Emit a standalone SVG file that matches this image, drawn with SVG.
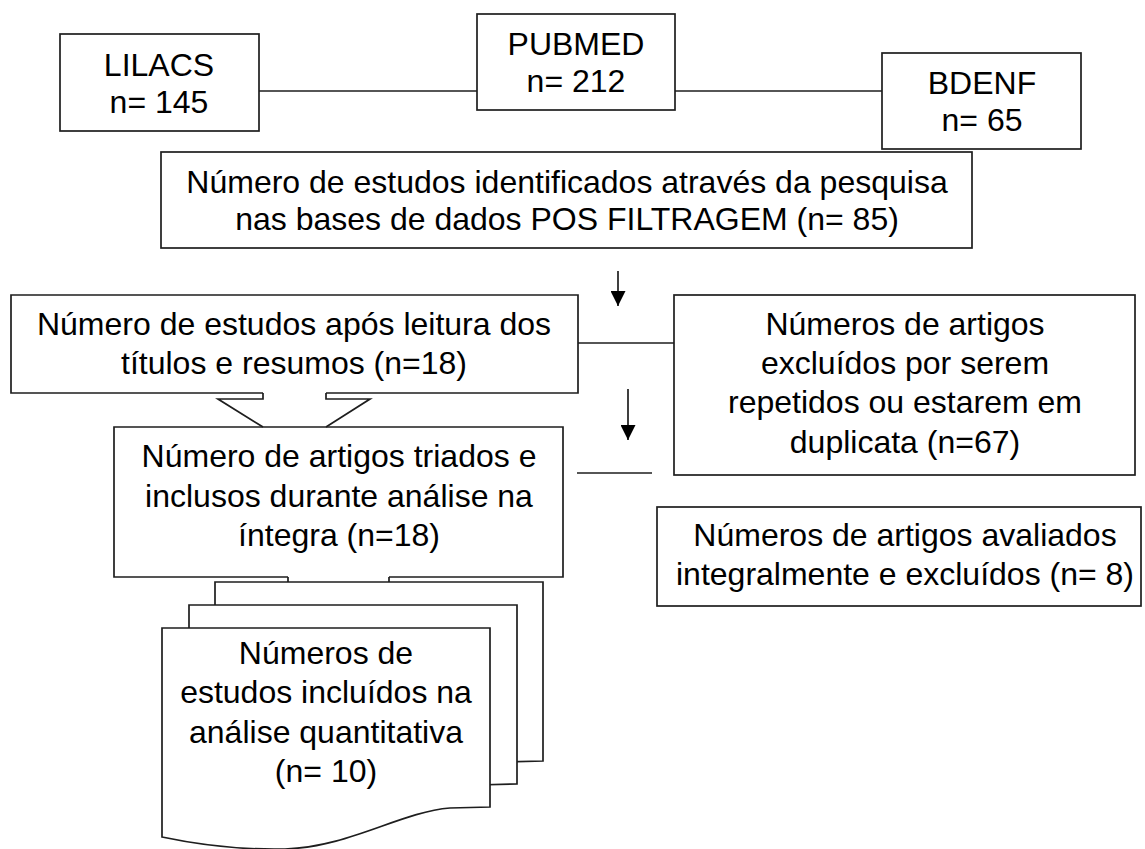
<svg xmlns="http://www.w3.org/2000/svg" width="1145" height="849" viewBox="0 0 1145 849">
<style>
.box{fill:#fff;stroke:#1e1e1e;stroke-width:1.7}
.ln{fill:none;stroke:#1e1e1e;stroke-width:1.7}
.t{font-family:"Liberation Sans",Arial,sans-serif;font-size:32px;fill:#000;text-anchor:middle}
</style>
<defs>
<path id="doc" d="M0,0 H328 V179 L288,180 C238,184 188,219 123,221 C78,222 38,217 0,209 Z"/>
<marker id="ah" viewBox="0 0 10 10" refX="10" refY="5" markerWidth="15" markerHeight="15" markerUnits="userSpaceOnUse" orient="auto">
<path d="M0,0 L10,5 L0,10 Z" fill="#000"/>
</marker>
</defs>
<rect width="1145" height="849" fill="#fff"/>

<g id="lilacs">
<rect class="box" x="60" y="34" width="199" height="97"/>
<text class="t" x="159" y="76">LILACS</text>
<text class="t" x="159" y="113">n= 145</text>
</g>
<g id="pubmed">
<rect class="box" x="477" y="14" width="198" height="96"/>
<text class="t" x="576" y="55">PUBMED</text>
<text class="t" x="576" y="92">n= 212</text>
</g>
<g id="bdenf">
<rect class="box" x="882" y="53" width="199" height="96"/>
<text class="t" x="982" y="94">BDENF</text>
<text class="t" x="982" y="131">n= 65</text>
</g>
<g id="identificados">
<rect class="box" x="161" y="152" width="811" height="96"/>
<text class="t" x="567" y="193">Número de estudos identificados através da pesquisa</text>
<text class="t" x="567" y="230">nas bases de dados POS FILTRAGEM (n= 85)</text>
</g>
<g id="apos-leitura">
<path class="box" d="M263,393 H11 V295 H578 V393 H326"/>
<text class="t" x="294" y="335">Número de estudos após leitura dos</text>
<text class="t" x="294" y="374">títulos e resumos (n=18)</text>
</g>
<g id="excluidos-repetidos">
<rect class="box" x="674" y="295" width="461" height="180"/>
<text class="t" x="905" y="335">Números de artigos</text>
<text class="t" x="905" y="374">excluídos por serem</text>
<text class="t" x="905" y="413">repetidos ou estarem em</text>
<text class="t" x="905" y="453">duplicata (n=67)</text>
</g>
<g id="triados">
<path class="box" d="M288,577 H114 V427 H563 V577 H389"/>
<text class="t" x="339" y="467">Número de artigos triados e</text>
<text class="t" x="339" y="507">inclusos durante análise na</text>
<text class="t" x="339" y="546">íntegra (n=18)</text>
</g>
<g id="avaliados-excluidos">
<rect class="box" x="657" y="507" width="484" height="99"/>
<text class="t" x="905" y="546">Números de artigos avaliados</text>
<text class="t" x="905" y="585">integralmente e excluídos (n= 8)</text>
</g>
<g id="incluidos-quantitativa">
<use href="#doc" class="box" transform="translate(215,582)"/>
<use href="#doc" class="box" transform="translate(189,605)"/>
<use href="#doc" class="box" transform="translate(162,628)"/>
<text class="t" x="326" y="664">Números de</text>
<text class="t" x="326" y="703">estudos incluídos na</text>
<text class="t" x="326" y="743">análise quantitativa</text>
<text class="t" x="326" y="782">(n= 10)</text>
</g>

<g id="connectors">
<line class="ln" x1="259" y1="91" x2="477" y2="91"/>
<line class="ln" x1="675" y1="91" x2="882" y2="91"/>
<line class="ln" x1="618" y1="271" x2="618" y2="306" marker-end="url(#ah)"/>
<line class="ln" x1="578" y1="343" x2="674" y2="343"/>
<line class="ln" x1="628" y1="389" x2="628" y2="440" marker-end="url(#ah)"/>
<line class="ln" x1="577" y1="473" x2="652" y2="473"/>
<path class="ln" d="M263,393 V399 H218 L263,427 M326,393 V399 H370 L326,427"/>
<path class="ln" d="M288,577 V582 M389,577 V582"/>
</g>
</svg>
